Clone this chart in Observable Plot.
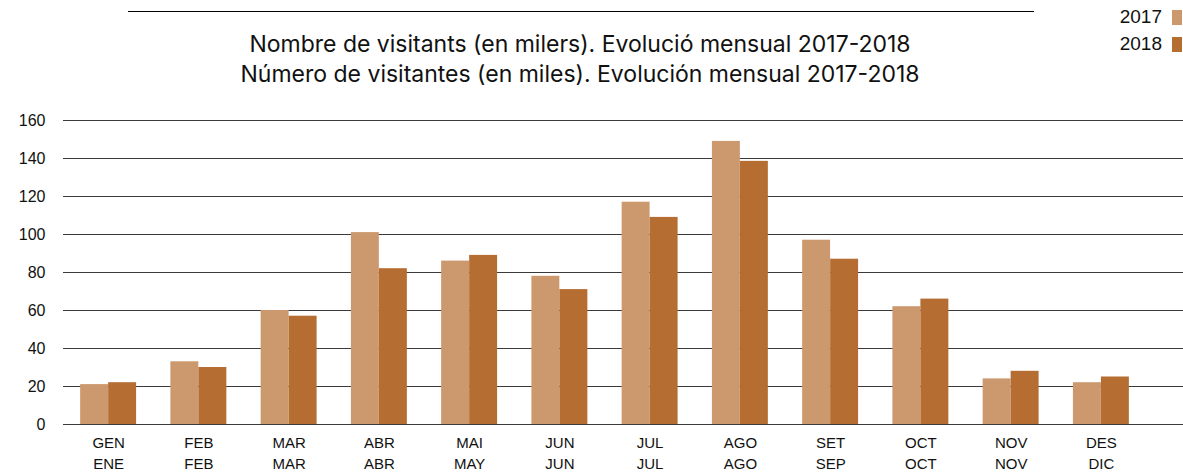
<!DOCTYPE html>
<html>
<head>
<meta charset="utf-8">
<script src="https://cdn.jsdelivr.net/npm/d3@7"></script>
<script src="https://cdn.jsdelivr.net/npm/@observablehq/plot@0.6"></script>
<style>
  html, body { margin: 0; padding: 0; background: #fff; }
  #wrap { width: 1183px; height: 472px; position: relative; overflow: hidden; }
  #header { position: relative; height: 100px; }
  #topline { position: absolute; left: 128px; top: 11px; width: 906px; height: 0; border-top: 1px solid #000; }
  #title { position: absolute; left: 0; top: 29px; width: 1160px; text-align: center;
           font-family: Inter, "Noto Sans", sans-serif; font-size: 23px; line-height: 30px; color: #111; }
  .leg { position: absolute; right: 1px; font-family: "Liberation Sans", Arial, sans-serif; font-size: 19px; color: #111;
         display: flex; align-items: center; }
  .leg span.sw { display: inline-block; width: 10px; height: 15px; margin-left: 10px; }
  svg { display: block; }
</style>
</head>
<body>
<div id="wrap">
  <div id="header">
    <div id="topline"></div>
    <div id="title"></div>
    <div id="legend"></div>
  </div>
  <div id="chart"></div>
</div>
<script>
const monthsCa = ["GEN","FEB","MAR","ABR","MAI","JUN","JUL","AGO","SET","OCT","NOV","DES"];
const monthsEs = ["ENE","FEB","MAR","ABR","MAY","JUN","JUL","AGO","SEP","OCT","NOV","DIC"];
const years = ["2017","2018"];
const values2017 = [21, 33, 60, 101, 86, 78, 117, 149, 97, 62, 24, 22];
const values2018 = [22, 30, 57, 82, 89, 71, 109, 138.5, 87, 66, 28, 25];
const yTicks = [0, 20, 40, 60, 80, 100, 120, 140, 160];
const titleLines = [
  "Nombre de visitants (en milers). Evolució mensual 2017-2018",
  "Número de visitantes (en miles). Evolución mensual 2017-2018"
];
const colors = ["#cc996e", "#b56d32"];

document.getElementById("title").innerHTML = titleLines.map(t => `<div>${t}</div>`).join("");
const legend = document.getElementById("legend");
years.forEach((y, i) => {
  const d = document.createElement("div");
  d.className = "leg";
  d.style.top = (i === 0 ? 6 : 33) + "px";
  d.innerHTML = `<span>${y}</span><span class="sw" style="background:${colors[i]}"></span>`;
  legend.appendChild(d);
});

const data = monthsCa.map((m, i) => ({month: m, es: monthsEs[i], v17: values2017[i], v18: values2018[i]}));

const chart = Plot.plot({
  width: 1183,
  height: 372,
  marginTop: 20,
  marginBottom: 48,
  marginLeft: 63,
  marginRight: 0,
  style: {fontFamily: "'Liberation Sans', Arial, sans-serif", color: "#111", background: "#fff"},
  x: {domain: monthsCa, range: [63, 1146], paddingInner: 0.38, paddingOuter: 0.19, round: false, axis: null},
  y: {domain: [0, 160], label: null},
  marks: [
    Plot.ruleY(yTicks, {stroke: "#3a3a3a", strokeWidth: 1}),
    Plot.barY(data, {x: "month", y: "v17", fill: colors[0], insetRight: 28}),
    Plot.barY(data, {x: "month", y: "v18", fill: colors[1], insetLeft: 28}),
    Plot.axisY({ticks: yTicks, tickSize: 0, tickPadding: 18, fontSize: 16, label: null}),
    Plot.text(data, {x: "month", text: d => d.month + "\n" + d.es, frameAnchor: "bottom",
      lineAnchor: "top", dy: 9, lineHeight: 1.4, fontSize: 15, fill: "#111"})
  ]
});
document.getElementById("chart").appendChild(chart);
</script>
</body>
</html>
